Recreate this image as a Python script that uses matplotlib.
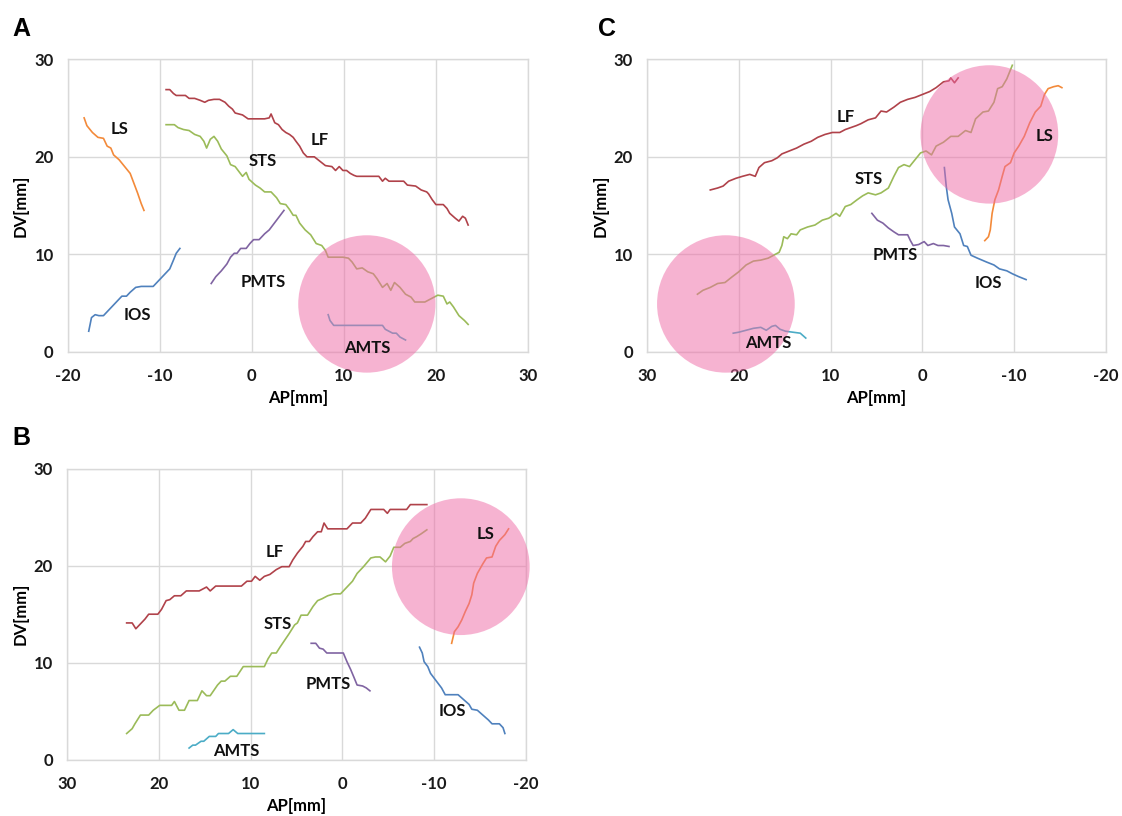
import matplotlib
matplotlib.use("Agg")
import matplotlib.pyplot as plt
from matplotlib.patches import Ellipse

plt.rcParams['font.family'] = ['Lato', 'DejaVu Sans']
plt.rcParams['axes.unicode_minus'] = False

# ---------------- Panel A ----------------
A_LF_x = [-9.3, -8.9, -8.5, -8.2, -7.2, -6.8, -6.2, -5.6, -5.1, -4.7, -4.1, -3.5, -2.9, -2.5, -2.1, -1.8,
          -1.0, -0.4, 0.4, 1.4, 1.9, 2.1, 2.5, 2.9, 3.3, 3.7, 4.1, 4.5, 4.8, 5.2, 5.6, 6.0, 6.8, 7.2, 7.6,
          8.0, 8.7, 9.1, 9.5, 9.9, 10.3, 10.7, 11.1, 11.4, 13.8, 14.2, 14.5, 14.9, 16.5, 16.9, 17.8, 18.4,
          19.0, 19.2, 19.6, 20.0, 20.8, 21.2, 21.5, 22.1, 22.5, 22.9, 23.2, 23.5]
A_LF_y = [26.9, 26.9, 26.5, 26.3, 26.3, 26.0, 26.0, 25.8, 25.6, 25.8, 25.9, 25.9, 25.6, 25.2, 24.9, 24.5,
          24.3, 23.9, 23.9, 23.9, 24.0, 24.4, 23.5, 23.3, 22.8, 22.5, 22.3, 22.0, 21.6, 21.1, 20.4, 20.0,
          20.0, 19.7, 19.4, 19.1, 19.0, 18.6, 19.0, 18.6, 18.6, 18.3, 18.1, 18.0, 18.0, 17.5, 17.8, 17.5,
          17.5, 17.1, 17.0, 16.6, 16.4, 16.2, 15.6, 15.1, 15.1, 14.7, 14.2, 13.7, 13.4, 13.9, 13.7, 13.0]
A_STS_x = [-9.3, -8.4, -8.0, -7.4, -6.8, -6.2, -5.6, -5.2, -4.9, -4.5, -4.1, -3.7, -3.3, -2.7, -2.3, -1.8,
           -1.4, -1.0, -0.6, -0.3, 0.4, 0.9, 1.4, 2.1, 2.7, 3.1, 3.7, 4.1, 4.5, 4.8, 5.2, 5.8, 6.4, 7.0,
           7.6, 8.0, 8.3, 9.9, 10.5, 10.9, 11.4, 12.0, 12.6, 13.2, 13.6, 14.2, 14.7, 15.1, 15.5, 16.1,
           16.7, 17.3, 17.7, 18.8, 19.4, 20.2, 20.8, 21.2, 21.5, 21.9, 22.5, 23.1, 23.5]
A_STS_y = [23.3, 23.3, 23.0, 22.8, 22.7, 22.3, 22.1, 21.6, 20.9, 21.8, 22.1, 21.6, 20.8, 20.1, 19.2, 19.0,
           18.5, 18.0, 18.4, 17.7, 17.1, 16.8, 16.4, 16.4, 15.8, 15.2, 15.1, 14.6, 14.0, 14.0, 13.2, 12.5,
           12.0, 11.1, 10.9, 10.4, 9.7, 9.7, 9.6, 9.2, 8.5, 8.6, 8.2, 8.0, 7.5, 6.6, 7.0, 6.3, 7.1, 6.6,
           5.9, 5.6, 5.1, 5.1, 5.4, 5.8, 5.7, 4.9, 5.1, 4.6, 3.7, 3.2, 2.8]
A_LS_x = [-18.2, -17.9, -17.3, -16.7, -16.1, -15.7, -15.3, -15.0, -14.4, -13.8, -13.2, -12.8, -12.4, -12.0, -11.7]
A_LS_y = [24.0, 23.2, 22.5, 22.0, 21.9, 21.1, 20.9, 20.2, 19.7, 19.0, 18.3, 17.3, 16.3, 15.2, 14.5]
A_IOS_x = [-17.7, -17.4, -17.0, -16.6, -16.1, -15.7, -15.1, -14.6, -14.1, -13.6, -13.2, -12.6, -12.0,
           -10.7, -10.1, -9.5, -8.9, -8.5, -8.2, -7.8]
A_IOS_y = [2.1, 3.5, 3.8, 3.7, 3.7, 4.1, 4.7, 5.2, 5.7, 5.7, 6.1, 6.6, 6.7, 6.7, 7.3, 7.9, 8.5, 9.4, 10.1, 10.6]
A_PMTS_x = [-4.4, -3.9, -3.3, -2.7, -2.3, -1.9, -1.6, -1.2, -0.6, -0.2, 0.2, 0.8, 1.4, 1.9, 2.3, 2.7, 3.1, 3.5]
A_PMTS_y = [7.0, 7.7, 8.3, 9.0, 9.7, 10.1, 10.1, 10.6, 10.6, 11.1, 11.5, 11.5, 12.1, 12.5, 13.0, 13.5, 14.0, 14.5]
A_AMTS_x = [8.3, 8.5, 8.9, 9.9, 14.2, 14.5, 14.9, 15.3, 15.7, 16.1, 16.7]
A_AMTS_y = [3.8, 3.2, 2.7, 2.7, 2.7, 2.3, 2.1, 1.9, 1.9, 1.5, 1.2]

# ---------------- Panel B ----------------
B_LF_x = [23.5, 22.9, 22.5, 22.0, 21.5, 21.1, 20.1, 19.7, 19.2, 18.8, 18.3, 17.6, 17.0, 15.6, 14.8, 14.4,
          13.8, 11.0, 10.4, 9.9, 9.5, 9.0, 8.5, 7.9, 7.2, 6.6, 5.8, 5.4, 4.9, 4.3, 4.0, 3.6, 3.2, 2.7, 2.3,
          2.0, 1.6, -0.5, -1.1, -2.0, -2.5, -3.1, -4.5, -4.9, -5.2, -7.0, -7.4, -9.2]
B_LF_y = [14.1, 14.1, 13.5, 14.0, 14.5, 15.0, 15.0, 15.5, 16.4, 16.5, 16.9, 16.9, 17.4, 17.4, 17.8, 17.4,
          17.9, 17.9, 18.4, 18.4, 18.9, 18.5, 18.9, 19.1, 19.6, 19.9, 19.9, 20.6, 21.3, 22.0, 22.5, 22.5,
          23.0, 23.5, 23.5, 24.4, 23.8, 23.8, 24.4, 24.4, 24.9, 25.8, 25.8, 25.4, 25.8, 25.8, 26.3, 26.3]
B_STS_x = [23.5, 22.9, 22.6, 22.0, 21.1, 20.6, 19.9, 18.6, 18.3, 17.8, 17.2, 16.7, 15.8, 15.3, 14.8, 14.4,
           13.6, 13.2, 12.8, 12.2, 11.5, 10.8, 8.5, 8.1, 7.7, 7.2, 6.8, 6.3, 5.8, 5.2, 4.9, 4.5, 3.8, 3.2,
           2.7, 2.2, 1.6, 0.9, 0.2, -0.5, -1.1, -1.6, -2.3, -3.1, -3.6, -4.1, -4.7, -5.2, -5.6, -6.3,
           -6.8, -7.4, -7.7, -8.1, -8.6, -9.2]
B_STS_y = [2.7, 3.2, 3.7, 4.6, 4.6, 5.1, 5.6, 5.6, 6.0, 5.1, 5.1, 6.1, 6.1, 7.1, 6.6, 6.6,
           7.7, 8.1, 8.1, 8.6, 8.6, 9.6, 9.6, 10.4, 11.0, 11.0, 11.6, 12.3, 13.0, 13.9, 14.1, 14.9, 14.9, 15.8,
           16.4, 16.6, 16.9, 17.1, 17.1, 17.8, 18.4, 19.2, 19.9, 20.8, 20.9, 20.9, 20.4, 21.0, 21.9, 21.9,
           22.3, 22.5, 22.8, 23.0, 23.3, 23.7]
B_LS_x = [-11.9, -12.2, -12.6, -13.0, -13.4, -13.8, -14.1, -14.3, -14.7, -15.3, -15.7, -16.3, -16.7, -17.1, -17.7, -18.1]
B_LS_y = [12.0, 13.2, 13.7, 14.4, 15.3, 16.1, 17.0, 18.2, 19.2, 20.2, 20.8, 20.9, 22.0, 22.6, 23.2, 23.8]
B_IOS_x = [-8.4, -8.7, -8.9, -9.3, -9.6, -10.0, -10.4, -10.8, -11.2, -12.6, -13.2, -13.8, -14.1, -14.7,
           -15.3, -15.9, -16.3, -17.1, -17.5, -17.7]
B_IOS_y = [11.6, 11.0, 10.1, 9.6, 8.9, 8.4, 7.9, 7.4, 6.7, 6.7, 6.2, 5.7, 5.2, 5.1, 4.6, 4.1, 3.7, 3.7, 3.3, 2.7]
B_PMTS_x = [3.4, 2.9, 2.5, 2.1, 1.7, 0.3, -0.1, -0.5, -0.9, -1.3, -1.6, -2.2, -2.6, -3.0]
B_PMTS_y = [12.0, 12.0, 11.5, 11.4, 11.0, 11.0, 11.0, 10.1, 9.3, 8.4, 7.7, 7.6, 7.4, 7.1]
B_AMTS_x = [16.7, 16.3, 16.0, 15.4, 15.1, 14.5, 13.8, 13.5, 12.4, 11.9, 11.4, 10.3, 8.5]
B_AMTS_y = [1.2, 1.5, 1.5, 1.9, 1.9, 2.4, 2.4, 2.7, 2.7, 3.1, 2.7, 2.7, 2.7]

# ---------------- Panel C ----------------
C_LF_x = [23.1, 22.3, 21.7, 21.1, 20.3, 19.6, 18.8, 18.2, 17.8, 17.2, 16.4, 15.8, 15.3, 14.5, 13.7, 12.9,
          12.1, 11.4, 10.6, 9.8, 9.0, 8.4, 7.8, 7.2, 6.7, 5.9, 5.1, 4.5, 3.9, 3.1, 2.4, 1.6, 0.8, 0.0,
          -0.8, -1.5, -2.3, -2.9, -3.1, -3.5, -3.9]
C_LF_y = [16.6, 16.8, 17.0, 17.5, 17.8, 18.0, 18.2, 18.0, 18.9, 19.4, 19.6, 19.9, 20.3, 20.6, 20.9, 21.3,
          21.6, 22.0, 22.3, 22.5, 22.5, 22.8, 23.0, 23.2, 23.4, 23.8, 24.0, 24.7, 24.6, 25.1, 25.6, 25.9,
          26.1, 26.4, 26.7, 27.1, 27.7, 27.8, 28.1, 27.6, 28.1]
C_STS_x = [24.5, 23.9, 23.1, 22.3, 21.5, 20.7, 20.0, 19.2, 18.4, 17.6, 16.8, 16.0, 15.6, 15.3, 15.1, 14.7,
           14.3, 13.7, 13.3, 12.5, 11.7, 10.9, 10.2, 9.4, 9.0, 8.4, 7.8, 7.1, 6.5, 5.9, 5.1, 4.5, 3.7,
           3.1, 2.6, 2.0, 1.4, 0.8, 0.2, -0.4, -1.0, -1.5, -2.3, -3.1, -3.9, -4.7, -5.3, -5.8, -6.6,
           -7.2, -7.8, -8.2, -8.7, -9.2, -9.8]
C_STS_y = [5.9, 6.3, 6.6, 7.0, 7.1, 7.7, 8.2, 8.9, 9.3, 9.4, 9.6, 10.0, 10.2, 10.9, 11.8, 11.6,
           12.1, 12.0, 12.5, 12.8, 13.0, 13.5, 13.7, 14.2, 13.9, 14.9, 15.1, 15.6, 16.0, 16.3, 16.1, 16.3,
           16.8, 18.0, 18.9, 19.2, 19.0, 19.7, 20.4, 20.6, 20.2, 21.1, 21.5, 22.1, 22.1, 22.7, 22.5, 23.9,
           24.6, 24.7, 25.6, 27.0, 27.2, 28.0, 29.4]
C_LS_x = [-6.8, -7.2, -7.4, -7.6, -7.9, -8.3, -8.7, -9.0, -9.6, -10.0, -10.5, -11.1, -11.7, -12.3, -12.9,
          -13.3, -13.7, -14.3, -14.8, -15.2]
C_LS_y = [11.4, 11.8, 12.5, 14.2, 15.6, 16.6, 18.0, 19.0, 19.4, 20.4, 21.1, 22.1, 23.5, 24.6, 25.2,
          26.4, 27.0, 27.2, 27.3, 27.1]
C_IOS_x = [-2.4, -2.6, -2.8, -3.2, -3.5, -4.1, -4.5, -4.9, -5.3, -6.0, -7.0, -7.8, -8.4, -9.2, -9.8, -10.5, -11.3]
C_IOS_y = [18.9, 17.0, 15.6, 14.2, 12.8, 12.1, 10.9, 10.8, 9.9, 9.6, 9.2, 8.9, 8.5, 8.3, 8.0, 7.7, 7.4]
C_PMTS_x = [5.5, 4.9, 4.3, 3.7, 3.1, 2.6, 1.6, 1.3, 1.0, 0.4, -0.2, -0.6, -1.2, -1.7, -2.3, -2.9]
C_PMTS_y = [14.2, 13.5, 13.2, 12.7, 12.3, 12.0, 12.0, 11.4, 10.9, 11.0, 11.3, 10.9, 11.1, 10.9, 10.9, 10.8]
C_AMTS_x = [20.6, 20.0, 19.2, 18.4, 17.6, 17.0, 16.4, 16.0, 15.5, 14.9, 14.1, 13.3, 12.7]
C_AMTS_y = [1.9, 2.0, 2.2, 2.4, 2.5, 2.2, 2.6, 2.7, 2.3, 2.1, 2.0, 1.9, 1.4]

# label positions (AP, DV) per panel
A_labels = {'LS': (-14.4, 22.9), 'LF': (7.4, 21.7), 'STS': (1.2, 19.6), 'PMTS': (1.2, 7.2),
            'IOS': (-12.4, 3.8), 'AMTS': (12.6, 0.4)}
B_labels = {'LF': (7.4, 21.4), 'STS': (7.0, 14.0), 'LS': (-15.6, 23.3), 'PMTS': (1.5, 7.8),
            'IOS': (-12.0, 5.0), 'AMTS': (11.6, 0.9)}
C_labels = {'LF': (8.4, 24.1), 'STS': (5.8, 17.7), 'LS': (-13.3, 22.1), 'PMTS': (3.0, 9.9),
            'IOS': (-7.2, 7.0), 'AMTS': (16.8, 0.9)}

# highlighted regions: (center AP, center DV, width AP, height DV)
A_circles = [(12.5, 4.9, 14.9, 14.1)]
B_circles = [(-12.9, 19.9, 15.0, 14.1)]
C_circles = [(-7.3, 22.3, 15.0, 14.2), (21.4, 4.9, 15.0, 14.1)]

colors = {'LF': '#b0424a', 'STS': '#9bbb59', 'LS': '#f38a3a', 'IOS': '#4f81bd',
          'PMTS': '#8064a2', 'AMTS': '#4bacc6'}
pink = '#ef69a5'
grid_c = '#d9d9d9'

fig = plt.figure(figsize=(11.22, 8.16), dpi=100)


def setup(ax, xlim, xticks):
    ax.set_xlim(*xlim)
    ax.set_ylim(0, 30)
    ax.set_xticks(xticks)
    ax.set_yticks([0, 10, 20, 30])
    ax.grid(True, color=grid_c, linewidth=1.0)
    ax.set_axisbelow(True)
    for s in ax.spines.values():
        s.set_color(grid_c)
        s.set_linewidth(1.0)
    ax.tick_params(axis='x', length=0, pad=12, labelsize=12, colors='#1a1a1a')
    ax.tick_params(axis='y', length=0, pad=10, labelsize=12, colors='#1a1a1a')
    for lab in ax.get_xticklabels() + ax.get_yticklabels():
        lab.set_fontweight('bold')
    ax.set_xlabel('AP[mm]', fontsize=12, fontweight='bold', labelpad=4)
    ax.set_ylabel('DV[mm]', fontsize=12, fontweight='bold', labelpad=4)


def draw(ax, series, labels, circles):
    for name, (xs, ys) in series.items():
        ax.plot(xs, ys, color=colors[name], linewidth=1.2, solid_joinstyle='round')
    for (cx, cy, w, h) in circles:
        ax.add_patch(Ellipse((cx, cy), w, h, facecolor=pink, edgecolor='none', alpha=0.5,
                             zorder=5, clip_on=False))
    for name, (lx, ly) in labels.items():
        ax.text(lx, ly, name, ha='center', va='center', fontsize=12, fontweight='bold',
                color='#111111', zorder=6)


axA = fig.add_axes([0.0602, 0.569, 0.4104, 0.3582])
setup(axA, (-20, 30), [-20, -10, 0, 10, 20, 30])
draw(axA, {'LF': (A_LF_x, A_LF_y), 'STS': (A_STS_x, A_STS_y), 'LS': (A_LS_x, A_LS_y),
           'IOS': (A_IOS_x, A_IOS_y), 'PMTS': (A_PMTS_x, A_PMTS_y), 'AMTS': (A_AMTS_x, A_AMTS_y)},
     A_labels, A_circles)

axB = fig.add_axes([0.0597, 0.069, 0.4091, 0.3566])
setup(axB, (30, -20), [30, 20, 10, 0, -10, -20])
draw(axB, {'LF': (B_LF_x, B_LF_y), 'STS': (B_STS_x, B_STS_y), 'LS': (B_LS_x, B_LS_y),
           'IOS': (B_IOS_x, B_IOS_y), 'PMTS': (B_PMTS_x, B_PMTS_y), 'AMTS': (B_AMTS_x, B_AMTS_y)},
     B_labels, B_circles)

axC = fig.add_axes([0.5766, 0.569, 0.4091, 0.3582])
setup(axC, (30, -20), [30, 20, 10, 0, -10, -20])
draw(axC, {'LF': (C_LF_x, C_LF_y), 'STS': (C_STS_x, C_STS_y), 'LS': (C_LS_x, C_LS_y),
           'IOS': (C_IOS_x, C_IOS_y), 'PMTS': (C_PMTS_x, C_PMTS_y), 'AMTS': (C_AMTS_x, C_AMTS_y)},
     C_labels, C_circles)

for letter, (px, py) in {'A': (12, 36), 'B': (12, 445), 'C': (598, 36)}.items():
    fig.text(px / 1122, 1 - py / 816, letter, fontsize=18, fontweight='bold',
             family=['Liberation Sans', 'DejaVu Sans'], va='baseline', ha='left')

fig.savefig('out.png', dpi=100)
